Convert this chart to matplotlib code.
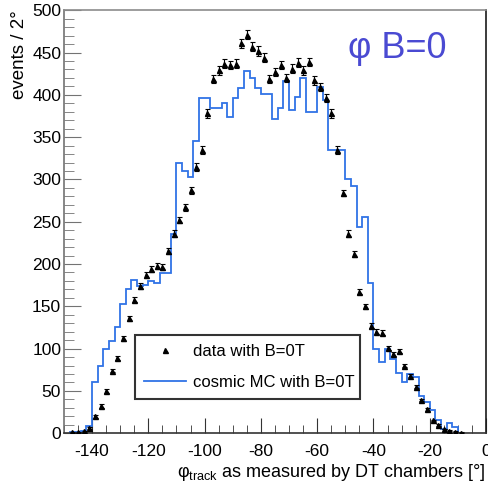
# -*- coding: utf-8 -*-
# Data vs cosmic MC, phi_track distribution for B=0

import matplotlib
matplotlib.use('Agg')
import matplotlib.pyplot as plt
from matplotlib.ticker import MultipleLocator
import numpy as np

plt.rcParams['font.family'] = ['Liberation Sans', 'DejaVu Sans']
plt.rcParams['axes.unicode_minus'] = False
plt.rcParams['mathtext.fontset'] = 'custom'
plt.rcParams['mathtext.rm'] = 'Liberation Sans'
plt.rcParams['mathtext.it'] = 'Liberation Sans:italic'

# ---- Data
# cosmic MC, 2 degree bins, left edges from -148 to -12
mc_edges = np.arange(-148, -11, 2)
mc_counts = [1, 1, 3, 9, 60, 80, 99, 109, 126, 153,
             170, 181, 174, 175, 180, 177, 189, 189, 236, 319,
             310, 303, 346, 396, 396, 385, 385, 390, 374, 396,
             408, 428, 420, 408, 401, 401, 372, 385, 416, 382,
             398, 420, 380, 380, 409, 394, 335, 335, 335, 300,
             292, 244, 256, 178, 99, 84, 99, 88, 71, 61,
             70, 66, 44, 37, 27, 15, 5, 12, 7]

# data with B=0T, bin centers from -147 to -9
data_x = np.arange(-147, -8, 2)
data_counts = [1, 1, 2, 6,
               20, 32, 50, 74, 89, 112, 136, 158,
               174, 187, 194, 198, 197, 215, 236, 252, 267, 287, 315, 335,
               378, 419, 429, 437, 435, 437, 461, 471, 457, 452, 444, 419,
               427, 435, 420, 431, 438, 429, 439, 417, 409, 396, 378, 335,
               284, 236, 212, 167, 150, 127, 120, 119, 101, 94, 97, 80,
               68, 55, 39, 28, 15, 10, 5, 3, 1.5, 0.5]
data_err = [0.5, 0.5, 1, 1,
            1.5, 2, 2, 2, 2.5, 2.5, 3, 3,
            3.5, 3.5, 3.5, 3.5, 3.5, 3.5, 4, 4, 4, 4, 4.5, 4.5,
            5, 5, 5, 5, 5, 5, 5.5, 5.5, 5.5, 5.5, 5, 5,
            5, 5, 5, 5, 5, 5, 5, 5, 5, 5, 5, 4.5,
            4, 4, 3.5, 3, 3, 3, 3, 3, 2.5, 2.5, 2.5, 2,
            2, 2, 1.5, 1.5, 1, 1, 0.5, 0.5, 0.5, 0.5]

mc_color = '#3073e6'
title_color = '#4a4ad2'

# ---- Plot
fig = plt.figure(figsize=(4.88, 4.90), dpi=100)
ax = fig.add_axes([0.131, 0.116, 0.865, 0.863])

mc_line = ax.stairs(mc_counts, np.append(mc_edges, mc_edges[-1] + 2),
                    color=mc_color, lw=1.3, zorder=2)
data_cont = ax.errorbar(data_x, data_counts, yerr=data_err, fmt='^',
                        color='black', ms=3.6, elinewidth=0.8, capsize=1.8,
                        capthick=0.8, zorder=3)

ax.set_xlim(-150, 0)
ax.set_ylim(0, 500)

ax.xaxis.set_major_locator(MultipleLocator(20))
ax.xaxis.set_minor_locator(MultipleLocator(5))
ax.yaxis.set_major_locator(MultipleLocator(50))
ax.yaxis.set_minor_locator(MultipleLocator(10))
ax.tick_params(which='both', direction='in', labelsize=12.5,
               top=False, right=False)
ax.tick_params(axis='x', which='major', length=11, pad=8, color='0.2')
ax.tick_params(axis='x', which='minor', length=6, color='0.2')
ax.tick_params(axis='y', which='major', length=12, pad=2, color='0.45')
ax.tick_params(axis='y', which='minor', length=7, color='0.45')

ax.spines['left'].set_color('0.45')
ax.spines['bottom'].set_color('0.2')
ax.spines['top'].set_color('0.55')
ax.spines['right'].set_color('0.1')
for sp in ax.spines.values():
    sp.set_linewidth(1.2)

ax.set_ylabel('events / 2°', loc='top', fontsize=13.5)
ax.yaxis.set_label_coords(-0.085, 1.0)
ax.set_xlabel(r'$\mathrm{φ}_{\mathrm{track}}$ as measured by DT chambers [°]',
              loc='right', fontsize=13)
ax.xaxis.set_label_coords(1.0, -0.068)

ax.text(0.789, 0.910, 'φ B=0', transform=ax.transAxes, fontsize=26,
        color=title_color, ha='center', va='center')

# legend: marker only for the data, line for the MC
mc_handle = plt.Line2D([], [], color=mc_color, lw=1.3)
leg = ax.legend([data_cont[0], mc_handle],
                ['data with B=0T', 'cosmic MC with B=0T'], loc='lower left',
                bbox_to_anchor=(0.168, 0.080, 0.533, 0.156), mode='expand',
                fontsize=12, frameon=True, fancybox=False, borderpad=0.55,
                labelspacing=0.95, handlelength=2.5, handletextpad=0.45,
                borderaxespad=0)
leg.get_frame().set_edgecolor('black')
leg.get_frame().set_linewidth(1.5)

fig.savefig('out.png', dpi=100)
